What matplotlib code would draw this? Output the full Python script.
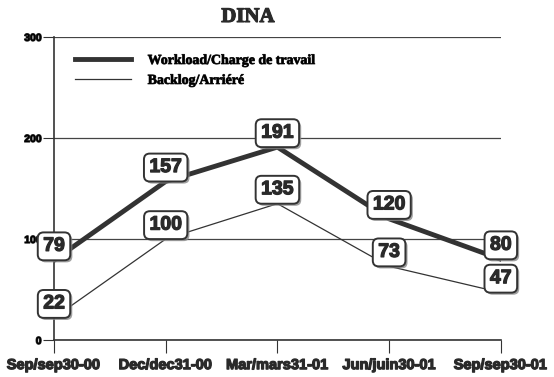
import matplotlib
matplotlib.use("Agg")
import matplotlib.pyplot as plt
import matplotlib.patheffects as pe

quarters = ["Sep/sep30-00", "Dec/dec31-00", "Mar/mars31-01", "Jun/juin30-01", "Sep/sep30-01"]
workload = [79, 157, 191, 120, 80]
backlog = [22, 100, 135, 73, 47]

fig = plt.figure(figsize=(5.54, 3.77), dpi=100)
ax = fig.add_axes([0.0975, 0.098, 0.8065, 0.804])

dark = "#333333"
heavy = [pe.withStroke(linewidth=0.9, foreground="#2a2a2a")]
x = range(len(quarters))
ax.plot(x, workload, color=dark, lw=3.5, label="Workload/Charge de travail", zorder=3)
ax.plot(x, backlog, color=dark, lw=0.9, label="Backlog/Arriéré", zorder=3)

box = dict(boxstyle="round,pad=0.28,rounding_size=0.3", fc="white", ec=dark, lw=1.4)
for series in (workload, backlog):
    for i, v in enumerate(series):
        t = ax.annotate(str(v), (i, v), xytext=(0, 10), textcoords="offset points",
                        ha="center", va="center", fontsize=14, fontweight="bold",
                        family="Liberation Sans", color="#2a2a2a", bbox=box, zorder=5)
        t.set_path_effects(heavy)
        t.get_bbox_patch().set_path_effects([
            pe.SimplePatchShadow(offset=(1.5, -1.5), shadow_rgbFace="#888888", alpha=0.8),
            pe.Normal()])

ax.set_xlim(0, len(quarters) - 1)
ax.set_ylim(0, 300)
ax.set_yticks([0, 100, 200, 300])
ax.set_xticks(list(x))
ax.set_xticklabels(quarters, fontsize=10.5, fontweight="bold", family="Liberation Sans", color="#2a2a2a")
ax.set_yticklabels(["0", "100", "200", "300"], fontsize=7.5, fontweight="bold", family="Liberation Sans")
for lab in ax.get_xticklabels() + ax.get_yticklabels():
    lab.set_path_effects(heavy)
ax.tick_params(axis="x", length=9, color=dark, pad=4)
ax.tick_params(axis="y", length=8, color=dark, pad=1)
ax.grid(axis="y", color="#444444", lw=0.9)
ax.set_axisbelow(True)
for s in ("right", "top"):
    ax.spines[s].set_visible(False)
for s in ("left", "bottom"):
    ax.spines[s].set_color(dark)
    ax.spines[s].set_linewidth(1.2)

leg = ax.legend(loc="upper left", bbox_to_anchor=(0.02, 0.985), frameon=False,
                prop=dict(family="Liberation Serif", weight="bold", size=10),
                handlelength=4.0, handletextpad=1.2, labelspacing=0.5)
for t in leg.get_texts():
    t.set_path_effects([pe.withStroke(linewidth=0.6, foreground="#2a2a2a")])

title = fig.text(248 / 554, 1 - 17 / 377, "DINA", ha="center", va="center",
                 fontsize=15, fontweight="bold", family="Liberation Serif", color="#2a2a2a")
title.set_path_effects([pe.withStroke(linewidth=0.8, foreground="#2a2a2a")])

fig.savefig("out.png", dpi=100)
